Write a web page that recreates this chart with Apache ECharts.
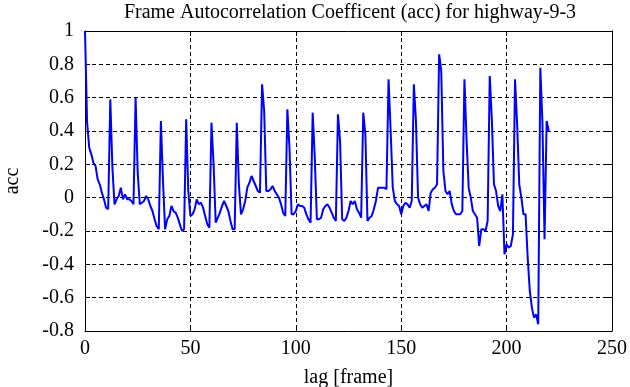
<!DOCTYPE html>
<html>
<head>
<meta charset="utf-8">
<script src="https://cdn.jsdelivr.net/npm/echarts@6/dist/echarts.min.js"></script>
<style>
html,body{margin:0;padding:0;background:#fff;}
#chart{width:630px;height:387px;}
</style>
</head>
<body>
<div id="chart"></div>
<script>
var titleText = "Frame Autocorrelation Coefficent (acc) for highway-9-3";
var xName = "lag [frame]";
var yName = "acc";
var xTicks = [0, 50, 100, 150, 200, 250];
var yTicks = [-0.8, -0.6, -0.4, -0.2, 0, 0.2, 0.4, 0.6, 0.8, 1];
// acc values for lag 0..220
var acc = [
 1.00, 0.45, 0.30, 0.26, 0.21, 0.19, 0.11, 0.08, 0.03,-0.01,
-0.06,-0.07, 0.59, 0.18,-0.04,-0.01, 0.01, 0.06,-0.01, 0.02,
-0.01,-0.01,-0.02,-0.04, 0.60, 0.15,-0.04,-0.03,-0.02, 0.01,
-0.01,-0.05,-0.08,-0.13,-0.17,-0.19, 0.46, 0.10,-0.19,-0.13,
-0.11,-0.05,-0.08,-0.09,-0.12,-0.16,-0.20,-0.19, 0.47, 0.04,
-0.11,-0.10,-0.07,-0.01,-0.04,-0.03,-0.06,-0.11,-0.16,-0.18,
 0.45, 0.20,-0.15,-0.12,-0.09,-0.05,-0.02,-0.05,-0.08,-0.14,
-0.19,-0.19, 0.45, 0.08,-0.10,-0.07,-0.02, 0.06, 0.09, 0.13,
 0.10, 0.07, 0.04, 0.03, 0.68, 0.52, 0.04, 0.04, 0.05, 0.07,
 0.04, 0.02, 0.00,-0.04,-0.09,-0.11, 0.53, 0.30,-0.10,-0.10,
-0.08,-0.04,-0.05,-0.05,-0.06,-0.10,-0.13,-0.15, 0.51, 0.24,
-0.13,-0.13,-0.12,-0.07,-0.05,-0.04,-0.06,-0.09,-0.12,-0.14,
 0.50, 0.34,-0.13,-0.14,-0.12,-0.08,-0.02,-0.04,-0.02,-0.07,
-0.09,-0.12, 0.51, 0.38,-0.14,-0.12,-0.11,-0.07,-0.02, 0.06,
 0.06, 0.06, 0.06, 0.05, 0.71, 0.40, 0.06,-0.02,-0.04,-0.05,
-0.10,-0.05,-0.03,-0.04,-0.06,-0.02, 0.68, 0.46, 0.00,-0.04,
-0.06,-0.05,-0.04,-0.08, 0.03, 0.05, 0.06, 0.08, 0.86, 0.76,
 0.16, 0.04, 0.02, 0.04,-0.04,-0.08,-0.10,-0.10,-0.10,-0.08,
 0.71, 0.35, 0.06, 0.00,-0.08,-0.10,-0.12,-0.29,-0.19,-0.19,
-0.20,-0.14, 0.73, 0.47, 0.08, 0.04,-0.05,-0.08, 0.02,-0.34,
-0.28,-0.30,-0.29,-0.22, 0.71, 0.44, 0.08, 0.00,-0.10,-0.10,
-0.36,-0.56,-0.66,-0.72,-0.70,-0.76, 0.78, 0.45,-0.25, 0.46,
 0.40
];

var seriesData = acc.map(function (v, i) { return [i, v]; });
var FONT = '"Liberation Serif", "Times New Roman", serif';
var FS = 20;
var gridLine = { show: true, lineStyle: { color: '#000', type: [4, 3], width: 1 } };
var axLine = { show: true, onZero: false, lineStyle: { color: '#000', width: 1 } };
var tick = { show: true, inside: true, length: 5, lineStyle: { color: '#000' } };
var xMin = xTicks[0], xMax = xTicks[xTicks.length - 1], xInt = xTicks[1] - xTicks[0];
var yMin = yTicks[0], yMax = yTicks[yTicks.length - 1], yInt = 0.2;

var chart = echarts.init(document.getElementById('chart'), null, { renderer: 'canvas' });
chart.setOption({
  animation: false,
  backgroundColor: '#fff',
  title: {
    text: titleText, left: 345, top: -2, textAlign: 'center',
    textStyle: { fontFamily: FONT, fontSize: FS, fontWeight: 'normal', color: '#000' }
  },
  grid: { left: 85, top: 31, width: 527, height: 300, containLabel: false, outerBoundsMode: 'none' },
  xAxis: [{
    type: 'value', min: xMin, max: xMax, interval: xInt, position: 'bottom',
    name: xName, nameLocation: 'middle', nameGap: 37,
    nameTextStyle: { fontFamily: FONT, fontSize: FS, color: '#000' },
    axisLine: axLine, axisTick: tick,
    axisLabel: { fontFamily: FONT, fontSize: FS, color: '#000', margin: 8 },
    splitLine: gridLine
  }, {
    type: 'value', min: xMin, max: xMax, interval: xInt, position: 'top',
    axisLine: axLine, axisTick: tick,
    axisLabel: { show: false }, splitLine: { show: false }
  }],
  yAxis: [{
    type: 'value', min: yMin, max: yMax, interval: yInt, position: 'left',
    name: yName, nameLocation: 'middle', nameGap: 62, nameRotate: 90,
    nameTextStyle: { fontFamily: FONT, fontSize: FS, color: '#000' },
    axisLine: axLine, axisTick: tick,
    axisLabel: { fontFamily: FONT, fontSize: FS, color: '#000', margin: 11 },
    splitLine: gridLine
  }, {
    type: 'value', min: yMin, max: yMax, interval: yInt, position: 'right',
    axisLine: axLine, axisTick: tick,
    axisLabel: { show: false }, splitLine: { show: false }
  }],
  series: [{
    type: 'line', data: seriesData, xAxisIndex: 0, yAxisIndex: 0,
    showSymbol: false, symbol: 'none', smooth: false,
    lineStyle: { color: '#0000ff', width: 2 },
    clip: true
  }]
});
</script>
</body>
</html>
